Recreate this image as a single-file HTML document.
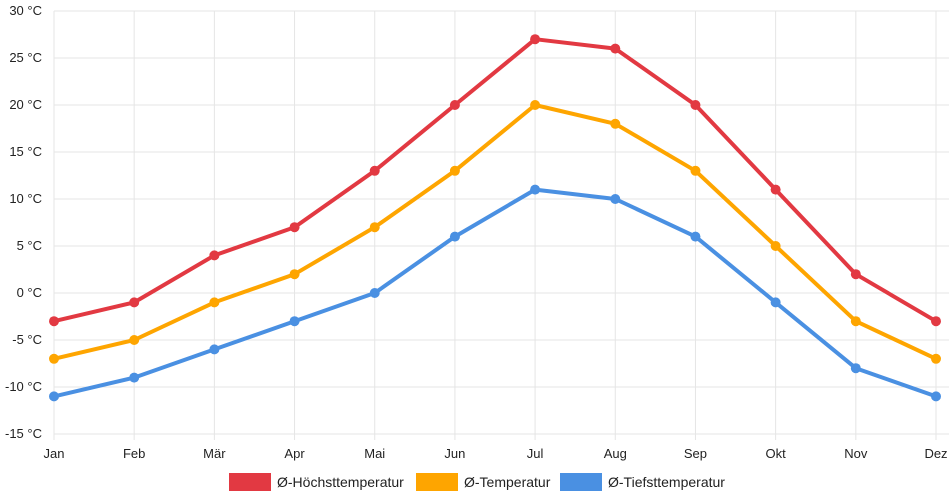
<!DOCTYPE html>
<html><head><meta charset="utf-8">
<style>
html,body{margin:0;padding:0;background:#fff;}
svg{display:block;font-family:"Liberation Sans",Arial,sans-serif;}
</style></head>
<body>
<svg id="chart" width="952" height="500"></svg>
<script>
const months = ["Jan","Feb","Mär","Apr","Mai","Jun","Jul","Aug","Sep","Okt","Nov","Dez"];
const highTemps = [-3,-1,4,7,13,20,27,26,20,11,2,-3];
const meanTemps = [-7,-5,-1,2,7,13,20,18,13,5,-3,-7];
const lowTemps = [-11,-9,-6,-3,0,6,11,10,6,-1,-8,-11];
const yTicks = [30,25,20,15,10,5,0,-5,-10,-15];
const seriesNames = ["Ø-Höchsttemperatur","Ø-Temperatur","Ø-Tiefsttemperatur"];

const NS="http://www.w3.org/2000/svg";
const svg=document.getElementById('chart');
const x0=54,x1=936,yTop=11,yBot=434,vMin=-15,vMax=30;
const xS=i=>x0+(x1-x0)*i/(months.length-1);
const yS=v=>yBot-(v-vMin)/(vMax-vMin)*(yBot-yTop);
function mk(tag,attrs,parent){const e=document.createElementNS(NS,tag);for(const k in attrs)e.setAttribute(k,attrs[k]);(parent||svg).appendChild(e);return e;}

const grid=mk('g',{});


yTicks.forEach(t=>{
  mk('line',{x1:x0,x2:949,y1:yS(t),y2:yS(t),stroke:'#e5e5e5','stroke-width':1},grid);
  const tx=mk('text',{x:x0-12,y:yS(t)+4,'text-anchor':'end','font-size':13,fill:'#222'});
  tx.textContent=t+' °C';
  
  
});
months.forEach((m,i)=>{
  mk('line',{x1:xS(i),x2:xS(i),y1:yTop,y2:yBot+6,stroke:'#e5e5e5','stroke-width':1},grid);
  const tx=mk('text',{x:xS(i),y:yBot+24,'text-anchor':'middle','font-size':13,fill:'#222'});
  tx.textContent=m;
  
  
});

const series=[[highTemps,'#e23942','high-temp'],[meanTemps,'#fea500','mean-temp'],[lowTemps,'#4a90e2','low-temp']];
series.forEach(([data,col,name])=>{
  const g=mk('g',{});
  
  
  const p=mk('polyline',{points:data.map((v,i)=>xS(i)+','+yS(v)).join(' '),fill:'none',stroke:col,'stroke-width':4,'stroke-linejoin':'round'},g);
  
  
  data.forEach((v,i)=>{
    const c=mk('circle',{cx:xS(i),cy:yS(v),r:5,fill:col},g);
    
    
  });
});

const legend=mk('g',{});


const lx=[229,416,560];
series.forEach(([d,col,name],k)=>{
  const it=mk('g',{},legend);
  
  
  mk('rect',{x:lx[k],y:473,width:42,height:18,fill:col},it);
  const t=mk('text',{x:lx[k]+48,y:487,'font-size':14,fill:'#222'},it);
  t.textContent=seriesNames[k];
});
</script>
</body></html>
